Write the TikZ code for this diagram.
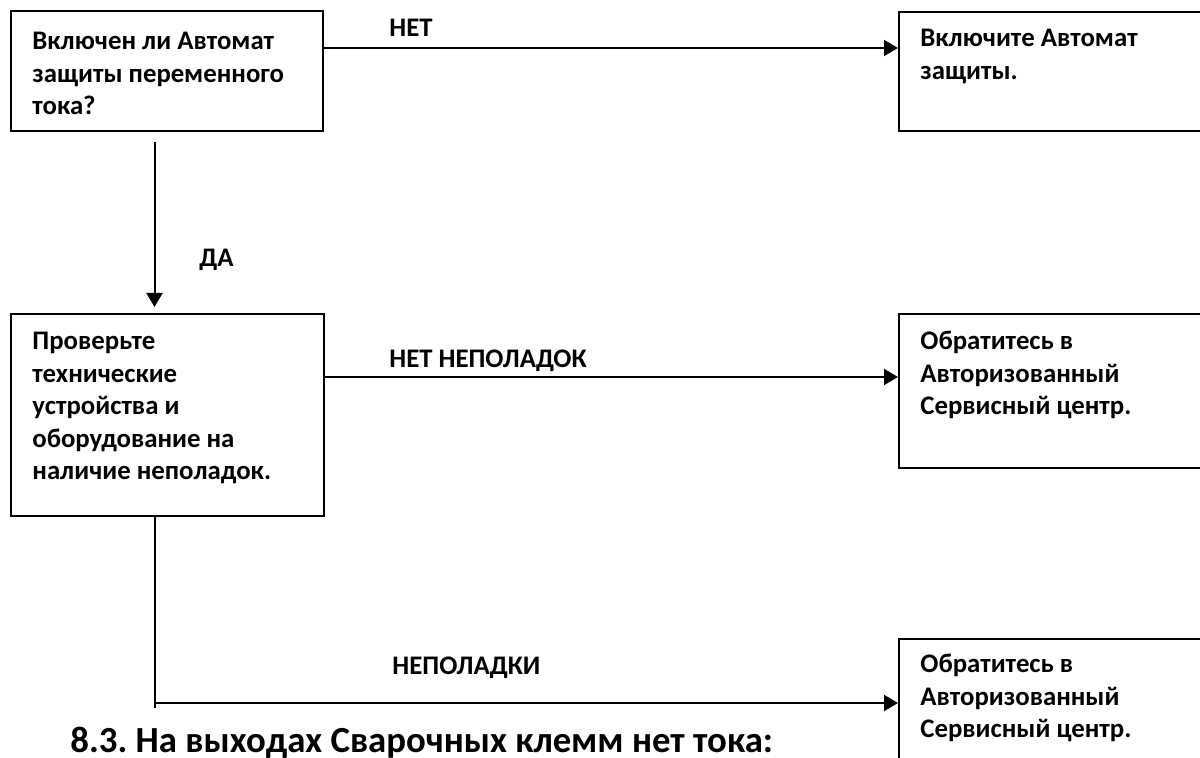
\documentclass[tikz,border=0pt]{standalone}
\usepackage{fontspec}
\setmainfont{Carlito}
\usetikzlibrary{arrows.meta,calc}
\frenchspacing
\begin{document}
\begin{tikzpicture}[x=0.5pt,y=-0.5pt,
  box/.style={draw,line width=1pt,inner sep=0pt,anchor=north west},
  txt/.style={inner sep=0pt,anchor=base west,text width=150pt,align=flush left,
    font=\fontsize{13.4pt}{16.25pt}\selectfont\bfseries},
  lbl/.style={inner sep=0pt,anchor=base west,
    font=\fontsize{13.4pt}{16.25pt}\selectfont\bfseries},
  link/.style={line width=1pt},
  arr/.style={link,-{Triangle[length=7pt,width=8pt]}}]
\clip (0,0) rectangle (1200,758);
\fill[white] (0,0) rectangle (1200,758);

% boxes
\node[box,minimum width=156pt,minimum height=60pt] (b1) at (10,10) {};
\node[box,minimum width=165pt,minimum height=59.5pt] (b2) at (898,11) {};
\node[box,minimum width=156.5pt,minimum height=101pt] (b3) at (10,313) {};
\node[box,minimum width=165pt,minimum height=77pt] (b4) at (898,313) {};
\node[box,minimum width=165pt,minimum height=81pt] (b5) at (898,638) {};

% box texts
\node[txt] (t1) at ($(b1.north west)+(22,40)$) {Включен ли Автомат\\защиты переменного\\тока?};
\node[txt] (t2) at ($(b2.north west)+(22,36)$) {Включите Автомат\\защиты.};
\node[txt] (t3) at ($(b3.north west)+(22,37)$) {Проверьте\\технические\\устройства и\\оборудование на\\наличие неполадок.};
\node[txt] (t4) at ($(b4.north west)+(22,37)$) {Обратитесь в\\Авторизованный\\Сервисный центр.};
\node[txt] (t5) at ($(b5.north west)+(22,35)$) {Обратитесь в\\Авторизованный\\Сервисный центр.};

% connectors
\coordinate (a1) at ($(b1.north east)+(0,38)$);
\draw[arr] (a1) -- (a1 -| b2.west);
\coordinate (a2s) at ($(b1.south west)+(144.5,10)$);
\coordinate (a2e) at ($(b3.north west)+(144.5,-6)$);
\draw[arr] (a2s) -- (a2e);
\coordinate (a3) at ($(b3.north east)+(0,64)$);
\draw[arr] (a3) -- (a3 -| b4.west);
\coordinate (a4) at ($(b3.south west)+(144.5,0)$);
\coordinate (a4e) at ($(a4)+(0,191)$);
\coordinate (a4c) at ($(a4)+(0,186)$);
\draw[link] (a4) -- (a4e);
\draw[arr] (a4c) -- (a4c -| b5.west);

% connector labels
\node[lbl] (l1) at (389,37) {НЕТ};
\node[lbl] (l2) at (199,267) {ДА};
\node[lbl] (l3) at (389,368) {НЕТ НЕПОЛАДОК};
\node[lbl] (l4) at (392,675) {НЕПОЛАДКИ};

% section heading
\node[inner sep=0pt,anchor=base west,font=\fontsize{18.4pt}{22pt}\selectfont\bfseries] (h) at (70,753) {8.3. На выходах Сварочных клемм нет тока:};
\end{tikzpicture}
\end{document}
